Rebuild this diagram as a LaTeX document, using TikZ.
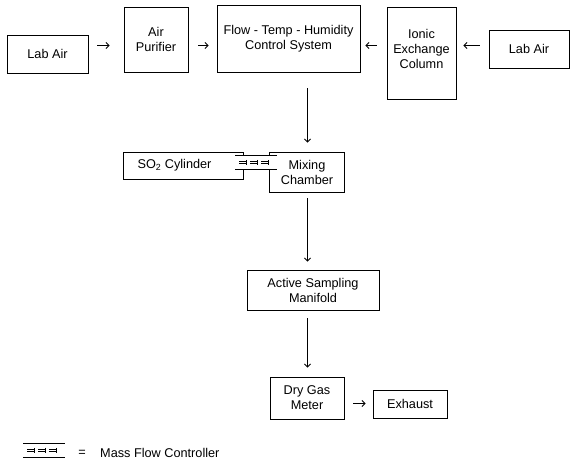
\documentclass[tikz,border=0pt]{standalone}
\usepackage{fontspec}
\setmainfont{Liberation Sans}
\usetikzlibrary{arrows.meta}
\tikzset{
  box/.style={draw, line width=0.9pt, align=center, inner sep=0pt,
    font=\fontsize{12.7}{15}\selectfont},
  lbl/.style={inner sep=0pt, font=\fontsize{12.7}{15}\selectfont},
  conn/.style={line width=0.8pt, -{Straight Barb[length=3pt,width=6pt]}},
  mfc/.pic={
    \fill[white] (-21,-7) rectangle (21,7);
    \draw[line width=0.9pt] (-21,-7) -- (21,-7);
    \draw[line width=0.9pt] (-21,7) -- (21,7);
    \foreach \u in {-17,-6,5}{
      \draw[line width=0.7pt] (\u,-1.3) -- (\u+7,-1.3);
      \draw[line width=0.7pt] (\u,1.3) -- (\u+7,1.3);
      \draw[line width=0.7pt] (\u+7,-2.7) -- (\u+7,2.7);
    }
  }
}
\begin{document}
\begin{tikzpicture}[x=1pt,y=-1pt]
\useasboundingbox[fill=white] (0,0) rectangle (580,470);
% boxes
\node[box, minimum width=81pt, minimum height=38pt] (labL) at (47.5,54) {Lab Air};
\node[box, minimum width=64pt, minimum height=65pt] (pur) at (156,39.5) {Air\\Purifier};
\node[box, minimum width=143pt, minimum height=67pt] (flow) at (288.5,38.5) {Flow - Temp - Humidity\\Control System};
\node[box, minimum width=69pt, minimum height=92pt] (ion) at (421.5,53) {Ionic\\Exchange\\Column\rule[-9pt]{0pt}{0pt}};
\node[box, minimum width=80pt, minimum height=38pt] (labR) at (529,49) {Lab Air};
\node[box, minimum width=120pt, minimum height=27pt] (so2) at (183,165.5) {SO\textsubscript{2} Cylinder\kern17pt};
\node[box, minimum width=75pt, minimum height=40pt] (mix) at (307,172) {Mixing\\Chamber};
\node[box, minimum width=132pt, minimum height=40pt] (act) at (313,290) {Active Sampling\\Manifold};
\node[box, minimum width=74pt, minimum height=42pt] (dry) at (307,398) {Dry Gas\\Meter};
\node[box, minimum width=74pt, minimum height=28pt] (exh) at (410,404) {Exhaust};
% mass flow controller between SO2 cylinder and mixing chamber
\pic at (256,162.5) {mfc};
% helper coordinates
\coordinate (ay) at (0,45.5);
\coordinate (vx) at (307.5,0);
\coordinate (ey) at (0,403.5);
% horizontal arrows
\draw[conn, shorten <=9pt, shorten >=14pt] (labL.east |- ay) -- (pur.west |- ay);
\draw[conn, shorten <=10pt, shorten >=8pt] (pur.east |- ay) -- (flow.west |- ay);
\draw[conn, shorten <=10pt, shorten >=5pt] (ion.west |- ay) -- (flow.east |- ay);
\draw[conn, shorten <=9pt, shorten >=7pt] (labR.west |- ay) -- (ion.east |- ay);
\draw[conn, shorten <=9pt, shorten >=7pt] (dry.east |- ey) -- (exh.west |- ey);
% vertical arrows
\draw[conn, shorten <=16pt, shorten >=9pt] (flow.south -| vx) -- (mix.north -| vx);
\draw[conn, shorten <=6pt, shorten >=8pt] (mix.south -| vx) -- (act.north -| vx);
\draw[conn, shorten <=8pt, shorten >=9pt] (act.south -| vx) -- (dry.north -| vx);
% legend
\pic at (44,450.5) {mfc};
\node[lbl] (eq) at (82,453) {=};
\node[lbl, anchor=west] (legend) at (100,453) {Mass Flow Controller};
\end{tikzpicture}
\end{document}
